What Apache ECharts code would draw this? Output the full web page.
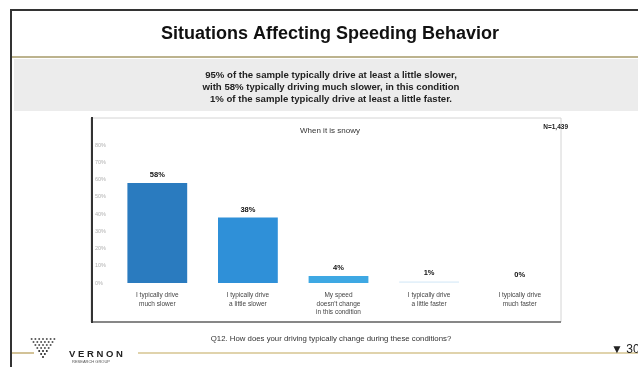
<!DOCTYPE html>
<html><head><meta charset="utf-8">
<script src="https://cdn.jsdelivr.net/npm/echarts@6/dist/echarts.min.js"></script>
<style>html,body{margin:0;padding:0;background:#fff}#c{width:638px;height:367px}</style>
</head><body><div id="c"></div>
<script>
const categories = [
  "I typically drive\nmuch slower",
  "I typically drive\na little slower",
  "My speed\ndoesn't change\nin this condition",
  "I typically drive\na little faster",
  "I typically drive\nmuch faster"
];
const values = [58, 38, 4, 1, 0];
const barColors = ["#2a7bbf", "#2f90d8", "#3ea8e3", "#e4f1fa", "#e4f1fa"];
const yTicks = [0, 10, 20, 30, 40, 50, 60, 70, 80];
const slideTitle = "Situations Affecting Speeding Behavior";
const subtitleLines = [
  "95% of the sample typically drive at least a little slower,",
  "with 58% typically driving much slower, in this condition",
  "1% of the sample typically drive at least a little faster."
];
const chartTitle = "When it is snowy";
const sampleSize = "N=1,439";
const questionText = "Q12. How does your driving typically change during these conditions?";
const pageNo = "\u25BC 30";

const chart = echarts.init(document.getElementById('c'), null, {renderer: 'canvas'});
const FONT = '"Liberation Sans", Arial, sans-serif';

// logo dots
const dots = [];
const rows = [7, 6, 5, 4, 3, 2, 1];
rows.forEach((n, r) => {
  for (let i = 0; i < n; i++) {
    dots.push({type: 'circle', shape: {cx: 43 - (n - 1) * 1.9 + i * 3.8, cy: 339 + r * 3, r: 1},
      style: {fill: r > 3 ? '#222' : '#555'}, silent: true});
  }
});

chart.setOption({
  animation: false,
  backgroundColor: '#fff',
  textStyle: {fontFamily: FONT},
  grid: {left: 112, right: 73, top: 145, bottom: 84},
  xAxis: {
    type: 'category', data: categories,
    axisLine: {show: false}, axisTick: {show: false},
    axisLabel: {interval: 0, fontSize: 6.5, lineHeight: 8.5, color: '#444', margin: 8}
  },
  yAxis: {
    type: 'value', min: 0, max: 80, interval: 10, offset: 20,
    axisLine: {show: false}, axisTick: {show: false}, splitLine: {show: false},
    axisLabel: {inside: true, fontSize: 5.5, color: '#b0b0b0', formatter: v => yTicks.includes(v) ? v + '%' : '', margin: 3}
  },
  series: [{
    type: 'bar',
    data: values.map((v, i) => ({value: v, itemStyle: {color: barColors[i]}})),
    barCategoryGap: '34%',
    label: {show: true, position: 'top', distance: 4, formatter: p => p.value + '%',
      fontSize: 7.5, fontWeight: 'bold', color: '#111'}
  }],
  graphic: [
    // slide frame
    {type: 'line', shape: {x1: 10, y1: 10, x2: 638, y2: 10}, style: {stroke: '#333', lineWidth: 2}, silent: true},
    {type: 'line', shape: {x1: 11, y1: 10, x2: 11, y2: 367}, style: {stroke: '#333', lineWidth: 2}, silent: true},
    {type: 'text', x: 330, y: 25, style: {text: slideTitle, font: 'bold 18px ' + FONT, fill: '#111', align: 'center', verticalAlign: 'top'}, silent: true},
    {type: 'line', shape: {x1: 12, y1: 57, x2: 638, y2: 57}, style: {stroke: '#a69a68', lineWidth: 1.5}, silent: true},
    {type: 'rect', shape: {x: 14, y: 59, width: 624, height: 52}, style: {fill: '#ececec'}, silent: true},
    {type: 'text', x: 331, y: 69, style: {text: subtitleLines.join('\n'), font: 'bold 9.6px ' + FONT, lineHeight: 12, fill: '#222', align: 'center', verticalAlign: 'top'}, silent: true},
    // chart box
    {type: 'rect', shape: {x: 91, y: 118, width: 470, height: 204}, style: {fill: 'none', stroke: '#d4d4d4', lineWidth: 1}, silent: true, z: -1},
    {type: 'line', shape: {x1: 91, y1: 322, x2: 561, y2: 322}, style: {stroke: '#666', lineWidth: 1.5}, silent: true},
    {type: 'line', shape: {x1: 92, y1: 117, x2: 92, y2: 323}, style: {stroke: '#333', lineWidth: 2}, silent: true},
    {type: 'text', x: 330, y: 127, style: {text: chartTitle, font: '8px ' + FONT, fill: '#333', align: 'center', verticalAlign: 'top'}, silent: true},
    {type: 'text', x: 568, y: 124, style: {text: sampleSize, font: 'bold 6.5px ' + FONT, fill: '#222', align: 'right', verticalAlign: 'top'}, silent: true},
    // footer
    {type: 'text', x: 331, y: 335, style: {text: questionText, font: '7.8px ' + FONT, fill: '#333', align: 'center', verticalAlign: 'top'}, silent: true},
    {type: 'line', shape: {x1: 12, y1: 353, x2: 34, y2: 353}, style: {stroke: '#b49a52', lineWidth: 1.2}, silent: true},
    {type: 'line', shape: {x1: 138, y1: 353, x2: 638, y2: 353}, style: {stroke: '#c2a75a', lineWidth: 1.2}, silent: true},
    {type: 'text', x: 69, y: 349, style: {text: 'V E R N O N', font: 'bold 9.5px ' + FONT, fill: '#222', verticalAlign: 'top'}, silent: true},
    {type: 'text', x: 72, y: 360, style: {text: 'RESEARCH GROUP', font: '4px ' + FONT, fill: '#555', verticalAlign: 'top'}, silent: true},
    {type: 'text', x: 611, y: 344, style: {text: pageNo, font: '12px ' + FONT, fill: '#222', verticalAlign: 'top'}, silent: true}
  ].concat(dots)
});
</script></body></html>
